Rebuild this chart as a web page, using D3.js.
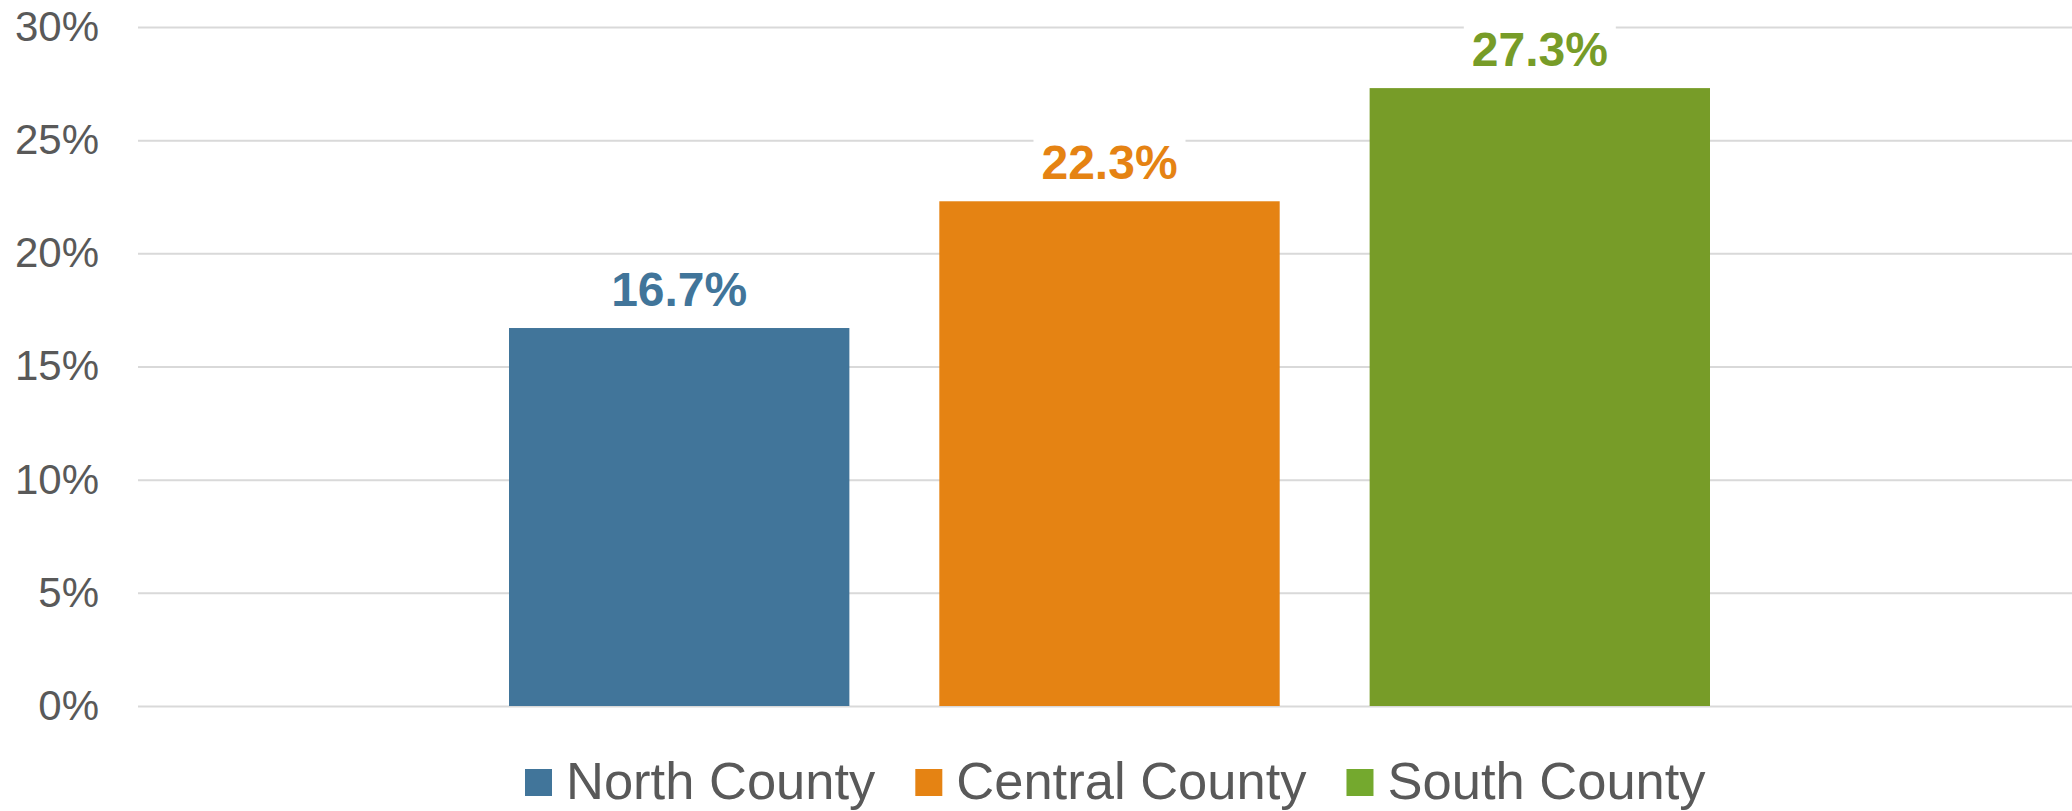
<!DOCTYPE html>
<html>
<head>
<meta charset="utf-8">
<script src="https://cdn.jsdelivr.net/npm/d3@7"></script>
<style>
  body { margin: 0; background: #fff; }
  text { font-family: "Liberation Sans", Arial, sans-serif; }
</style>
</head>
<body>
<div id="chart"></div>
<script>
// data
var series = ['North County', 'Central County', 'South County'];
var values = [16.7, 22.3, 27.3];
var colors = ['#41759a', '#e58313', '#779c28'];
var legendColors = ['#41759a', '#e58313', '#74a92e'];
var yTicks = [0, 5, 10, 15, 20, 25, 30];

var svgWidth = 2072;
var svgHeight = 811;

var svg = d3.select('#chart')
    .append('svg')
    .attr('width', svgWidth)
    .attr('height', svgHeight);

// plot area
var plotLeft = 138, plotRight = 2072, plotTop = 27, plotBottom = 706;

var yScale = d3.scaleLinear()
    .domain([0, 30])
    .range([plotBottom, plotTop]);

// bars sit in the middle of the plot as one cluster
var xScale = d3.scaleBand()
    .domain(series)
    .range([509, 1710])
    .paddingInner(0.209);

// gridlines + tick labels through the axis
var yAxis = d3.axisLeft(yScale)
    .tickValues(yTicks)
    .tickFormat(d => d + '%')
    .tickSize(-(plotRight - plotLeft))
    .tickPadding(39);

var axisG = svg.append('g')
    .attr('transform', `translate(${plotLeft}, 0)`)
    .call(yAxis);

axisG.select('.domain').remove();
axisG.selectAll('.tick line')
    .attr('stroke', '#d9d9d9')
    .attr('stroke-width', 2);
axisG.selectAll('.tick text')
    .attr('fill', '#595959')
    .style('font-size', '42px')
    .style('font-family', '"Liberation Sans", Arial, sans-serif');

// bars
svg.selectAll('rect.bar')
    .data(values)
    .enter()
    .append('rect')
    .attr('class', 'bar')
    .attr('x', (d, i) => xScale(series[i]))
    .attr('y', d => yScale(d))
    .attr('width', xScale.bandwidth())
    .attr('height', d => yScale(0) - yScale(d))
    .attr('fill', (d, i) => colors[i]);

// value labels with a white box behind them
var labelG = svg.selectAll('g.vlabel')
    .data(values)
    .enter()
    .append('g')
    .attr('class', 'vlabel')
    .attr('transform', (d, i) => `translate(${xScale(series[i]) + xScale.bandwidth() / 2}, ${yScale(d) - 22})`);

labelG.append('rect')
    .attr('x', -76)
    .attr('y', -50)
    .attr('width', 152)
    .attr('height', 60)
    .attr('fill', '#fff');

labelG.append('text')
    .attr('text-anchor', 'middle')
    .attr('fill', (d, i) => colors[i])
    .style('font-size', '48px')
    .style('font-weight', 'bold')
    .text(d => d.toFixed(1) + '%');

// legend
var legend = svg.append('g');
var lx = 525;
series.forEach(function(s, i) {
    legend.append('rect')
        .attr('x', lx)
        .attr('y', 769)
        .attr('width', 27)
        .attr('height', 27)
        .attr('fill', legendColors[i]);
    var t = legend.append('text')
        .attr('x', lx + 41)
        .attr('y', 799)
        .attr('fill', '#595959')
        .style('font-size', '52.5px')
        .text(s);
    lx = lx + 41 + t.node().getComputedTextLength() + 40;
});
</script>
</body>
</html>
